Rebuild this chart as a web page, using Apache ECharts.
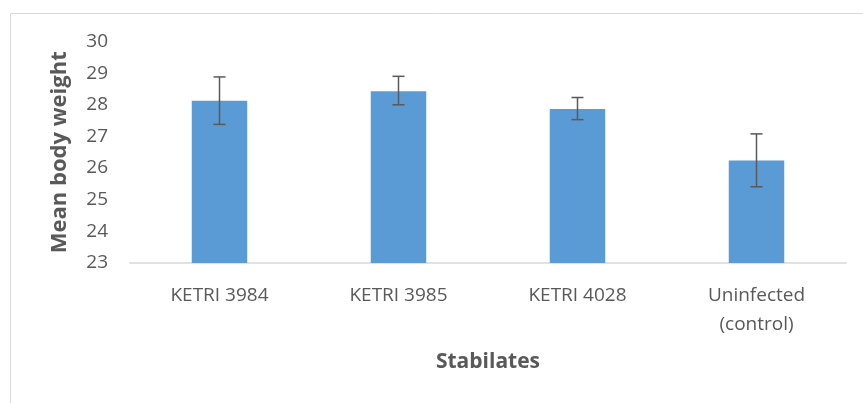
<!DOCTYPE html>
<html>
<head>
<meta charset="utf-8">
<script src="https://cdn.jsdelivr.net/npm/echarts@6/dist/echarts.min.js"></script>
<style>html,body{margin:0;padding:0;background:#fff}#c{width:863px;height:403px}</style>
</head>
<body>
<div id="c"></div>
<script>
var categories = ['KETRI 3984', 'KETRI 3985', 'KETRI 4028', 'Uninfected\n(control)'];
var meanValues = [28.13, 28.43, 27.87, 26.24];
var errLow = [27.38, 28.0, 27.53, 25.41];
var errHigh = [28.88, 28.9, 28.23, 27.08];
var yTicks = [23, 24, 25, 26, 27, 28, 29, 30];

var chart = echarts.init(document.getElementById('c'), null, {renderer: 'canvas'});
var font = '"Open Sans", "Liberation Sans", sans-serif';
var errData = categories.map(function (c, i) { return [i, errLow[i], errHigh[i]]; });

chart.setOption({
  animation: false,
  backgroundColor: '#fff',
  graphic: [{
    type: 'rect', silent: true,
    shape: {x: 10.5, y: 13.5, width: 900, height: 500},
    style: {fill: 'none', stroke: '#d9d9d9', lineWidth: 1}
  }],
  grid: {left: 130, right: 17, top: 41.5, bottom: 140, containLabel: false},
  xAxis: {
    type: 'category',
    data: categories,
    name: 'Stabilates',
    nameLocation: 'middle',
    nameGap: 89,
    nameTextStyle: {fontFamily: font, fontSize: 21, fontWeight: 'bold', color: '#595959'},
    axisLine: {lineStyle: {color: '#d9d9d9', width: 1.5}},
    axisTick: {show: false},
    axisLabel: {fontFamily: font, fontSize: 19, color: '#595959', margin: 18, lineHeight: 29, interval: 0}
  },
  yAxis: {
    type: 'value',
    min: yTicks[0],
    max: yTicks[yTicks.length - 1],
    interval: 1,
    name: 'Mean body weight',
    nameLocation: 'middle',
    nameGap: 59,
    nameTextStyle: {fontFamily: font, fontSize: 22, fontWeight: 'bold', color: '#595959'},
    axisLine: {show: false},
    axisTick: {show: false},
    splitLine: {show: false},
    axisLabel: {fontFamily: font, fontSize: 19, color: '#595959', margin: 22}
  },
  series: [{
    type: 'bar',
    data: meanValues,
    barWidth: '31%',
    itemStyle: {color: '#5b9bd5'}
  }, {
    type: 'custom',
    data: errData,
    z: 10,
    renderItem: function (params, api) {
      var x = api.value(0);
      var lo = api.coord([x, api.value(1)]);
      var hi = api.coord([x, api.value(2)]);
      var hw = 6;
      var st = {stroke: '#595959', lineWidth: 1.5};
      return {
        type: 'group',
        children: [
          {type: 'line', shape: {x1: hi[0], y1: hi[1], x2: lo[0], y2: lo[1]}, style: st},
          {type: 'line', shape: {x1: hi[0] - hw, y1: hi[1], x2: hi[0] + hw, y2: hi[1]}, style: st},
          {type: 'line', shape: {x1: lo[0] - hw, y1: lo[1], x2: lo[0] + hw, y2: lo[1]}, style: st}
        ]
      };
    }
  }]
});
</script>
</body>
</html>
